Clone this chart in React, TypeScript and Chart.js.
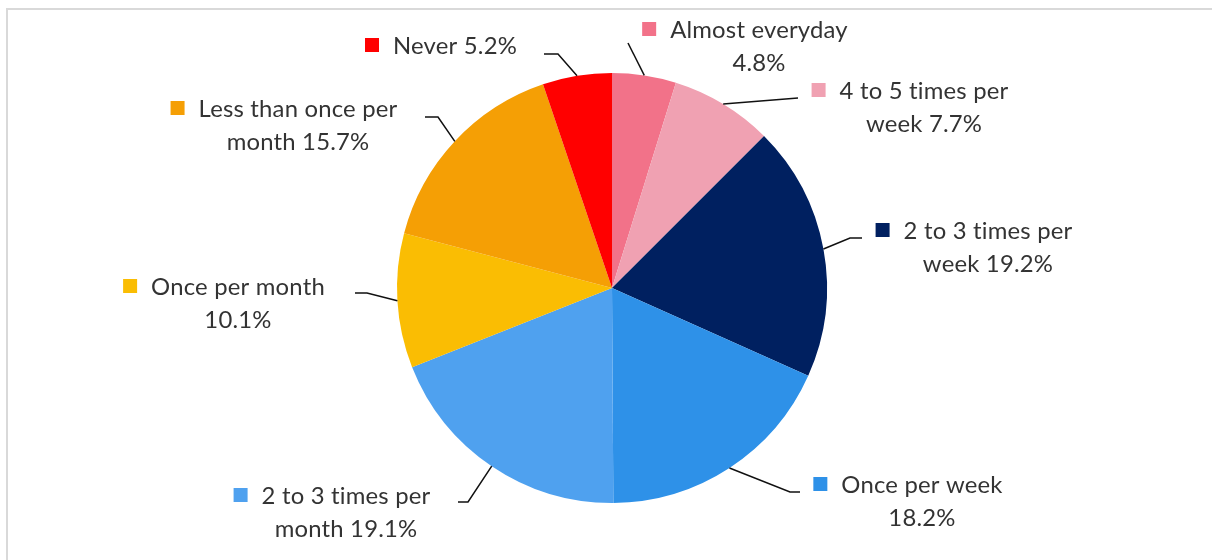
import { useEffect, useRef } from "react";
import { Chart, registerables } from "chart.js";

Chart.register(...registerables);

const categories = [
  "Almost everyday",
  "4 to 5 times per week",
  "2 to 3 times per week",
  "Once per week",
  "2 to 3 times per month",
  "Once per month",
  "Less than once per month",
  "Never",
];
const shares = [4.8, 7.7, 19.2, 18.2, 19.1, 10.1, 15.7, 5.2];
const sliceColors = [
  "#F27289",
  "#F0A1B2",
  "#002060",
  "#2E91E8",
  "#4FA1EF",
  "#FABD03",
  "#F59F05",
  "#FF0000",
];

// layout: centre of first text line for each data label
const labelAnchors: number[][] = [
  [759, 29],
  [924, 90],
  [988, 230],
  [922, 484],
  [346, 495],
  [238, 286],
  [298, 108],
  [455, 45],
];
// layout: leader line bend / end points
const leaderBends: number[][][] = [
  [[628, 43]],
  [[798, 98]],
  [[850, 238], [862, 238]],
  [[790, 492], [800, 492]],
  [[468, 502], [458, 502]],
  [[367, 293], [355, 293]],
  [[438, 117], [425, 117]],
  [[558, 54], [544, 54]],
];

const FONT_FAMILY = "Lato";
const LINE_H = 33;
const WRAP_W = 212;

const labelsPlugin = {
  id: "excelLabels",
  beforeDraw(chart: any) {
    const ctx = chart.ctx;
    ctx.save();
    ctx.strokeStyle = "#D9D9D9";
    ctx.lineWidth = 2;
    ctx.strokeRect(7, 9, 1400, 800);
    ctx.restore();
  },
  afterDraw(chart: any) {
    const ctx = chart.ctx;
    const meta = chart.getDatasetMeta(0);
    ctx.save();
    try {
      ctx.letterSpacing = "0.2px";
    } catch (e) {}
    ctx.font = `22px ${FONT_FAMILY}`;
    const ref = ctx.measureText("Almost everyday").width;
    const size = (22 * 178) / ref;
    ctx.font = `${size}px ${FONT_FAMILY}`;

    meta.data.forEach((arc: any, i: number) => {
      const p = arc.getProps(["x", "y", "startAngle", "endAngle", "outerRadius"], true);
      const mid = (p.startAngle + p.endAngle) / 2;
      const sx = p.x + Math.cos(mid) * p.outerRadius;
      const sy = p.y + Math.sin(mid) * p.outerRadius;
      ctx.beginPath();
      ctx.moveTo(sx, sy);
      leaderBends[i].forEach((pt) => ctx.lineTo(pt[0], pt[1]));
      ctx.strokeStyle = "#111";
      ctx.lineWidth = 1.5;
      ctx.stroke();

      // wrap text
      const text = `${categories[i]} ${shares[i].toFixed(1)}%`;
      const words = text.split(" ");
      const lines: string[] = [];
      let cur = "";
      words.forEach((w) => {
        const t = cur ? cur + " " + w : w;
        if (cur && ctx.measureText(t).width > WRAP_W) {
          lines.push(cur);
          cur = w;
        } else cur = t;
      });
      if (cur) lines.push(cur);

      const [cx, cy] = labelAnchors[i];
      ctx.fillStyle = "#333333";
      ctx.textAlign = "center";
      ctx.textBaseline = "middle";
      lines.forEach((ln, k) => ctx.fillText(ln, cx, cy + k * LINE_H + 1));
      const w0 = ctx.measureText(lines[0]).width;
      ctx.fillStyle = sliceColors[i];
      ctx.fillRect(cx - w0 / 2 - 28, cy - 7, 14, 14);
    });
    ctx.restore();
  },
};

export default function App() {
  const ref = useRef<HTMLCanvasElement | null>(null);
  useEffect(() => {
    if (!ref.current) return;
    const chart = new Chart(ref.current, {
      type: "pie",
      data: {
        labels: categories,
        datasets: [
          {
            data: shares,
            backgroundColor: sliceColors,
            borderColor: "#FFFFFF",
            borderWidth: 0,
          },
        ],
      },
      options: {
        responsive: false,
        animation: false,
        devicePixelRatio: 1,
        layout: { padding: { top: 73, bottom: 57, left: 397, right: 385 } },
        plugins: {
          legend: { display: false },
          tooltip: { enabled: false },
        },
      },
      plugins: [labelsPlugin],
    });
    return () => chart.destroy();
  }, []);
  return (
    <div style={{ position: "absolute", left: 0, top: 0, width: 1212, height: 560, background: "#fff" }}>
      <canvas ref={ref} width={1212} height={560} style={{ width: 1212, height: 560, display: "block" }} />
    </div>
  );
}
